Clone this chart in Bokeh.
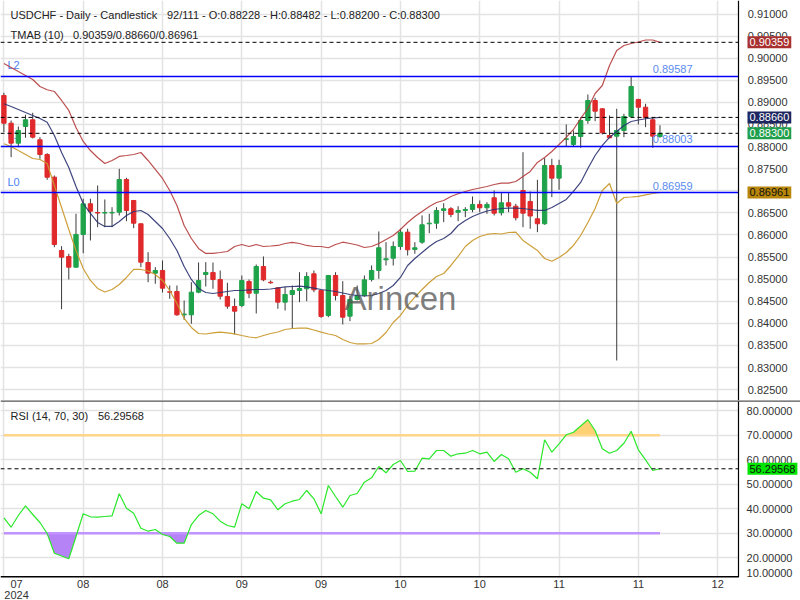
import numpy as np
from bokeh.plotting import figure
from bokeh.layouts import column
from bokeh.models import (Range1d, FixedTicker, PrintfTickFormatter, Span, Label, Grid)
from bokeh.embed import file_html
from bokeh.resources import INLINE

FONT = "Liberation Sans"

# ---------------- data ----------------
opens = [0.89156, 0.88529, 0.88077, 0.88455, 0.88606, 0.88154, 0.87821, 0.87307, 0.85649, 0.85513,
         0.85271, 0.86011, 0.86705, 0.86508, 0.86495, 0.86498, 0.86515, 0.87255, 0.86780, 0.86253,
         0.85377, 0.85135, 0.85196, 0.84715, 0.84721, 0.84193, 0.84193, 0.84705, 0.85106, 0.85151,
         0.84992, 0.84608, 0.84381, 0.84404, 0.84947, 0.84682, 0.85286, 0.84930, 0.84804, 0.84479,
         0.84653, 0.84743, 0.84782, 0.85121, 0.84743, 0.84178, 0.85083, 0.84630, 0.84162, 0.84540,
         0.84630, 0.84992, 0.85196, 0.85438, 0.85474, 0.85739, 0.86063, 0.85672, 0.85836, 0.86253,
         0.86266, 0.86554, 0.86592, 0.86515, 0.86554, 0.86576, 0.86690, 0.86615, 0.86841, 0.86502,
         0.86728, 0.86651, 0.87006, 0.86757, 0.86366, 0.86253, 0.87572, 0.87285, 0.88160, 0.88047,
         0.88228, 0.88590, 0.89043, 0.88855, 0.88251, 0.88235, 0.88364, 0.88681, 0.89066, 0.88891,
         0.88606, 0.88228]
highs = [0.89217, 0.88590, 0.88455, 0.88719, 0.88765, 0.88213, 0.87850, 0.87346, 0.85746, 0.85574,
         0.86479, 0.86819, 0.86819, 0.87119, 0.86803, 0.86628, 0.87497, 0.87294, 0.86790, 0.86260,
         0.85610, 0.85271, 0.85422, 0.84856, 0.84856, 0.84517, 0.84931, 0.85377, 0.85384, 0.85377,
         0.85196, 0.84918, 0.84562, 0.85083, 0.84992, 0.85332, 0.85513, 0.84970, 0.84818, 0.84818,
         0.84856, 0.85157, 0.85157, 0.85196, 0.84759, 0.85083, 0.85157, 0.84954, 0.84630, 0.84856,
         0.85083, 0.85309, 0.86079, 0.85836, 0.85852, 0.86140, 0.86140, 0.85836, 0.86441, 0.86479,
         0.86628, 0.86719, 0.86628, 0.86651, 0.86628, 0.86871, 0.86780, 0.86742, 0.87006, 0.86968,
         0.86968, 0.86705, 0.87873, 0.86984, 0.87248, 0.87737, 0.87724, 0.87701, 0.88500, 0.88364,
         0.88665, 0.89179, 0.89104, 0.88870, 0.88704, 0.88855, 0.88742, 0.89586, 0.89081, 0.88968,
         0.88665, 0.88482]
lows = [0.88326, 0.87760, 0.87986, 0.88199, 0.88183, 0.87724, 0.87248, 0.85723, 0.84320, 0.84992,
        0.85257, 0.85587, 0.85875, 0.86176, 0.86176, 0.86176, 0.86441, 0.86312, 0.86153, 0.85271,
        0.84931, 0.84895, 0.84698, 0.84555, 0.84171, 0.84080, 0.83990, 0.84682, 0.84834, 0.84782,
        0.84540, 0.84329, 0.83748, 0.84365, 0.84569, 0.84223, 0.84954, 0.84895, 0.84329, 0.84291,
        0.83877, 0.84479, 0.84501, 0.84705, 0.84125, 0.84140, 0.84517, 0.83974, 0.84049, 0.84517,
        0.84600, 0.84947, 0.85008, 0.85309, 0.85309, 0.85664, 0.85535, 0.85574, 0.85800, 0.86040,
        0.86140, 0.86289, 0.86402, 0.86312, 0.86402, 0.86515, 0.86515, 0.86479, 0.86441, 0.86441,
        0.86515, 0.86328, 0.86176, 0.86140, 0.86063, 0.86230, 0.86855, 0.87022, 0.88002, 0.88002,
        0.87973, 0.88516, 0.88575, 0.88274, 0.88190, 0.83159, 0.88213, 0.88665, 0.88500, 0.88439,
        0.87973, 0.88200]
closes = [0.88529, 0.88077, 0.88364, 0.88606, 0.88213, 0.87821, 0.87307, 0.85784, 0.85497, 0.85271,
          0.86011, 0.86705, 0.86538, 0.86495, 0.86508, 0.86510, 0.87255, 0.86554, 0.86266, 0.85384,
          0.85135, 0.85196, 0.84795, 0.84705, 0.84193, 0.84210, 0.84705, 0.84970, 0.85151, 0.84992,
          0.84614, 0.84388, 0.84275, 0.84970, 0.84682, 0.85286, 0.84985, 0.84918, 0.84479, 0.84653,
          0.84743, 0.84789, 0.85060, 0.84759, 0.84155, 0.85083, 0.84630, 0.84139, 0.84540, 0.84630,
          0.84985, 0.85196, 0.85710, 0.85461, 0.85739, 0.86063, 0.85664, 0.85710, 0.86230, 0.86266,
          0.86554, 0.86592, 0.86463, 0.86554, 0.86576, 0.86690, 0.86615, 0.86690, 0.86493, 0.86728,
          0.86651, 0.86389, 0.86493, 0.86429, 0.86253, 0.87572, 0.87285, 0.87572, 0.88176, 0.88228,
          0.88590, 0.89043, 0.88801, 0.88312, 0.88199, 0.88364, 0.88681, 0.89360, 0.88891, 0.88652,
          0.88235, 0.88300]

tma_upper = [0.89880, 0.89790, 0.89699, 0.89609, 0.89518, 0.89360, 0.89285, 0.89247, 0.89043, 0.88817,
             0.88432, 0.88115, 0.87911, 0.87753, 0.87617, 0.87685, 0.87776, 0.87798, 0.87821, 0.87866,
             0.87685, 0.87482, 0.87278, 0.87006, 0.86667, 0.86214, 0.85920, 0.85694, 0.85581, 0.85581,
             0.85603, 0.85626, 0.85739, 0.85784, 0.85739, 0.85784, 0.85739, 0.85750, 0.85762, 0.85807,
             0.85830, 0.85807, 0.85762, 0.85739, 0.85739, 0.85710, 0.85784, 0.85836, 0.85807, 0.85773,
             0.85716, 0.85739, 0.85807, 0.85897, 0.85988, 0.86124, 0.86282, 0.86418, 0.86531, 0.86644,
             0.86735, 0.86780, 0.86871, 0.86932, 0.86984, 0.87029, 0.87063, 0.87097, 0.87142, 0.87172,
             0.87172, 0.87210, 0.87323, 0.87436, 0.87640, 0.87753, 0.87889, 0.88047, 0.88206, 0.88387,
             0.88636, 0.88862, 0.89201, 0.89382, 0.89835, 0.90175, 0.90288, 0.90333, 0.90367, 0.90412,
             0.90412, 0.90359]
tma_mid = [0.88968, 0.88907, 0.88839, 0.88771, 0.88704, 0.88636, 0.88552, 0.88251, 0.87866, 0.87527,
           0.87097, 0.86712, 0.86486, 0.86282, 0.86192, 0.86192, 0.86305, 0.86441, 0.86531, 0.86554,
           0.86463, 0.86305, 0.86146, 0.85920, 0.85649, 0.85286, 0.84992, 0.84789, 0.84698, 0.84675,
           0.84698, 0.84721, 0.84743, 0.84743, 0.84755, 0.84766, 0.84766, 0.84777, 0.84800, 0.84823,
           0.84834, 0.84841, 0.84823, 0.84795, 0.84766, 0.84743, 0.84721, 0.84687, 0.84653, 0.84630,
           0.84619, 0.84630, 0.84675, 0.84743, 0.84856, 0.85038, 0.85309, 0.85467, 0.85603, 0.85739,
           0.85852, 0.85920, 0.86033, 0.86214, 0.86327, 0.86418, 0.86486, 0.86542, 0.86576, 0.86599,
           0.86606, 0.86606, 0.86599, 0.86576, 0.86554, 0.86554, 0.86622, 0.86712, 0.86803, 0.86984,
           0.87187, 0.87504, 0.87798, 0.88025, 0.88206, 0.88341, 0.88477, 0.88568, 0.88602, 0.88629,
           0.88647, 0.88660]
tma_lower = [0.88063, 0.88002, 0.87911, 0.87821, 0.87730, 0.87708, 0.87617, 0.87119, 0.86622, 0.86124,
             0.85649, 0.85241, 0.84970, 0.84789, 0.84709, 0.84766, 0.84879, 0.85038, 0.85219, 0.85219,
             0.85185, 0.85105, 0.84970, 0.84743, 0.84449, 0.84110, 0.83906, 0.83770, 0.83759, 0.83782,
             0.83800, 0.83782, 0.83763, 0.83725, 0.83691, 0.83673, 0.83725, 0.83770, 0.83804, 0.83861,
             0.83883, 0.83890, 0.83890, 0.83849, 0.83800, 0.83759, 0.83725, 0.83634, 0.83567, 0.83533,
             0.83533, 0.83544, 0.83634, 0.83793, 0.84019, 0.84178, 0.84404, 0.84592, 0.84766, 0.84924,
             0.85060, 0.85128, 0.85309, 0.85513, 0.85739, 0.85875, 0.85965, 0.86011, 0.86033, 0.86022,
             0.86056, 0.86063, 0.85875, 0.85762, 0.85649, 0.85467, 0.85406, 0.85490, 0.85603, 0.85762,
             0.85988, 0.86282, 0.86599, 0.87006, 0.87165, 0.86712, 0.86848, 0.86859, 0.86871, 0.86905,
             0.86938, 0.86961]

rsi = [36.29, 32.45, 37.22, 41.18, 37.63, 34.37, 29.88, 21.84, 20.69, 19.55,
       28.65, 37.92, 36.69, 36.53, 36.82, 37.10, 46.08, 40.20, 38.16, 32.04,
       30.82, 31.51, 29.47, 28.65, 25.92, 25.92, 33.55, 37.22, 39.27, 37.92,
       34.90, 33.14, 32.45, 42.00, 39.96, 47.02, 44.29, 43.63, 39.55, 42.00,
       43.06, 43.76, 47.43, 44.04, 37.92, 49.47, 44.98, 40.61, 45.39, 46.20,
       50.82, 52.61, 57.22, 54.65, 58.04, 59.67, 55.18, 55.31, 60.61, 60.37,
       63.76, 63.76, 61.43, 62.41, 62.65, 63.76, 62.41, 63.06, 59.27, 62.12,
       60.37, 54.90, 56.29, 54.90, 52.20, 68.12, 63.06, 66.49, 70.16, 71.22,
       73.76, 76.29, 71.92, 64.45, 62.65, 63.76, 66.73, 71.63, 64.04, 59.96,
       55.59, 56.29568]

level_lines = [0.89587, 0.88003, 0.86959]
level_names = ["L2", "L1", "L0"]
last_close = 0.88300
tmab_last = [0.90359, 0.88660, 0.86961]
rsi_over, rsi_under = 70, 30

price_ticks = [0.825, 0.830, 0.835, 0.840, 0.845, 0.850, 0.855, 0.860, 0.865, 0.870,
               0.875, 0.880, 0.885, 0.890, 0.895, 0.900, 0.905, 0.910]
rsi_ticks = [20, 30, 40, 50, 60, 70, 80]
rsi_bottom_tick = 13.96
x_grid_ticks = [0, 11, 22, 33, 44, 55, 66, 77, 88, 99]
x_label_ticks = [1.75, 11, 22, 33, 44, 55, 66, 77, 88, 99]
x_labels = ["07\n2024", "08", "08", "09", "09", "10", "10", "11", "11", "12"]

header = "USDCHF - Daily - Candlestick"
header2 = "92/111 - O:0.88228 - H:0.88482 - L:0.88200 - C:0.88300"
tmab_title = "TMAB (10)"
rsi_title = "RSI (14, 70, 30)"

# ---------------- figures ----------------
n = len(opens)
idx = np.arange(n)
o = np.array(opens); c = np.array(closes)
up = c >= o
GREEN, RED = "#1ea34a", "#e0292b"
body_col = np.where(up, GREEN, RED)

X_LEFT, X_AXIS, X_RIGHT = -0.4716, 101.89, 110.49   # frame spans the price-axis strip too
xr = Range1d(X_LEFT, X_RIGHT)
P_LO, P_HI = 0.822537, 0.913055
R_LO, R_HI = 11.92, 84.16
TXT = "#333333"
gcol = "#e3e3e3"


def base_fig(h, yr, xloc):
    p = figure(frame_width=800, frame_height=h, x_range=xr, y_range=yr,
               x_axis_location=xloc, y_axis_location="left", toolbar_location=None,
               output_backend="svg", min_border=0)
    p.background_fill_color = "white"
    p.border_fill_color = "white"
    p.outline_line_color = None
    p.grid.visible = False
    p.min_border_left = 0
    p.min_border_right = 0
    p.min_border_top = 0
    p.min_border_bottom = 0
    return p


def style_yaxis(ax, ticks, standoff):
    ax.ticker = FixedTicker(ticks=ticks, minor_ticks=[])
    ax.formatter = PrintfTickFormatter(format="%.5f")
    ax.fixed_location = X_AXIS
    ax.axis_line_color = "black"
    ax.axis_line_width = 1.2
    ax.major_tick_out = 0
    ax.major_tick_in = 0
    ax.minor_tick_line_color = None
    ax.major_label_standoff = standoff
    ax.major_label_text_align = "right"
    ax.major_label_text_font = FONT
    ax.major_label_text_font_size = "11px"
    ax.major_label_text_color = TXT


def hline(p, y, **kw):
    p.segment(x0=X_LEFT, y0=y, x1=X_AXIS, y1=y, **kw)


# ---------------- price panel ----------------
p1 = base_fig(400, Range1d(P_LO, P_HI), None)
p1.add_layout(Grid(dimension=0, ticker=FixedTicker(ticks=x_grid_ticks), grid_line_color=gcol, grid_line_width=1.5))
p1.add_layout(Grid(dimension=1, ticker=FixedTicker(ticks=price_ticks), grid_line_color=gcol, grid_line_width=1.5))
style_yaxis(p1.yaxis[0], price_ticks, -49)

for lv, nm in zip(level_lines, level_names):
    p1.add_layout(Label(x=7, y=lv, x_units="screen", text=nm, text_font=FONT, text_font_size="11px",
                        text_color="#4d7ff5", text_baseline="middle", y_offset=11, level="underlay"))

p1.segment(idx, highs, idx, lows, line_color="#3a3a3a", line_width=1)
p1.vbar(x=idx, width=0.6, top=np.maximum(o, c), bottom=np.minimum(o, c),
        fill_color=body_col, line_color=body_col, line_width=1)

p1.line(idx, tma_upper, line_color="#b43c3c", line_width=1.2, line_alpha=0.9)
p1.line(idx, tma_mid, line_color="#2a3270", line_width=1.2, line_alpha=0.9)
p1.line(idx, tma_lower, line_color="#c99a2e", line_width=1.2, line_alpha=0.95)

for lv in level_lines:
    hline(p1, lv, line_color="#0000ff", line_width=1.5)
    p1.add_layout(Label(x=idx[-1] - 1, y=lv, text=f"{lv:.5f}", text_font=FONT, text_font_size="11px",
                        text_color="#5b8cf0", text_baseline="middle", y_offset=7))
for lv in [tmab_last[0], tmab_last[1], last_close]:
    hline(p1, lv, line_color="black", line_width=1, line_dash="4 3")

# white strip behind the price labels
p1.quad(left=X_AXIS, right=X_RIGHT, bottom=P_LO, top=P_HI, fill_color="white", line_color=None)

p1.add_layout(Label(x=400, y=102, x_units="screen", y_units="screen", text="Arincen", text_font=FONT,
                    text_font_size="33px", text_color="#555555", text_alpha=0.75,
                    text_align="center", text_baseline="middle"))

p1.add_layout(Label(x=10, y=386, x_units="screen", y_units="screen", text=header, text_font=FONT,
                    text_font_size="11px", text_color="#222222", text_baseline="middle"))
p1.add_layout(Label(x=166.5, y=386, x_units="screen", y_units="screen", text=header2, text_font=FONT,
                    text_font_size="11px", text_color="#222222", text_baseline="middle"))
p1.add_layout(Label(x=10, y=366, x_units="screen", y_units="screen", text=tmab_title, text_font=FONT,
                    text_font_size="11px", text_color="#222222", text_baseline="middle"))
p1.add_layout(Label(x=72.5, y=366, x_units="screen", y_units="screen",
                    text="/".join(f"{v:.5f}" for v in tmab_last), text_font=FONT,
                    text_font_size="11px", text_color="#222222", text_baseline="middle"))

badges = [(tmab_last[0], "#a8302f", "white"), (tmab_last[1], "#1d2660", "white"),
          (last_close, "#1f9e4c", "white"), (tmab_last[2], "#b8860b", "#111111")]
for val, bg, fg in badges:
    p1.add_layout(Label(x=747, y=val, x_units="screen", text=f"{val:.5f}", text_font=FONT,
                        text_font_size="11px", text_color=fg, background_fill_color=bg,
                        text_baseline="middle", padding=2))

# ---------------- RSI panel ----------------
p2 = base_fig(177, Range1d(R_LO, R_HI), "below")
p2.add_layout(Grid(dimension=0, ticker=FixedTicker(ticks=x_grid_ticks), grid_line_color=gcol, grid_line_width=1.5))
p2.add_layout(Grid(dimension=1, ticker=FixedTicker(ticks=rsi_ticks), grid_line_color=gcol, grid_line_width=1.5))
style_yaxis(p2.yaxis[0], [rsi_bottom_tick] + rsi_ticks, -54)
p2.yaxis[0].major_label_overrides = {rsi_bottom_tick: "10.00000"}

axx = p2.xaxis[0]
axx.ticker = FixedTicker(ticks=x_label_ticks, minor_ticks=[])
axx.major_label_overrides = {t: lab for t, lab in zip(x_label_ticks, x_labels)}
axx.axis_line_color = None
axx.major_tick_out = 0
axx.major_tick_in = 0
axx.major_label_standoff = 0
axx.major_label_text_font = FONT
axx.major_label_text_font_size = "11px"
axx.major_label_text_color = TXT
axx.major_label_text_line_height = 0.95


def fill_region(xs, ys, level, above):
    px, py = [], []
    for k in range(len(xs)):
        if k > 0:
            y0, y1 = ys[k - 1], ys[k]
            if (y0 - level) * (y1 - level) < 0:
                t = (level - y0) / (y1 - y0)
                px.append(xs[k - 1] + t * (xs[k] - xs[k - 1]))
                py.append(level)
        px.append(xs[k]); py.append(ys[k])
    px = np.array(px, dtype=float); py = np.array(py, dtype=float)
    y2 = np.maximum(py, level) if above else np.minimum(py, level)
    return px, y2


fx, fy = fill_region(idx, rsi, rsi_over, True)
p2.varea(x=fx, y1=rsi_over, y2=fy, fill_color="#ffcf6e", fill_alpha=0.95)
fx, fy = fill_region(idx, rsi, rsi_under, False)
p2.varea(x=fx, y1=rsi_under, y2=fy, fill_color="#b27cf6", fill_alpha=0.95)

p2.line([idx[0], idx[-1]], [rsi_over, rsi_over], line_color="#ffd68a", line_width=2.5)
p2.line([idx[0], idx[-1]], [rsi_under, rsi_under], line_color="#c293ff", line_width=2.5)
p2.line(idx, rsi, line_color="#2be82b", line_width=1.2)
hline(p2, rsi[-1], line_color="black", line_width=1, line_dash="4 3")

p2.quad(left=X_AXIS, right=X_RIGHT, bottom=R_LO, top=R_HI, fill_color="white", line_color=None)
# panel separator (full width) and time-axis base line (up to the price axis)
p2.add_layout(Span(location=R_HI, dimension="width", line_color="#555555", line_width=2.4))
p2.segment(x0=X_LEFT, y0=R_LO, x1=X_AXIS, y1=R_LO, line_color="black", line_width=3)

p2.add_layout(Label(x=10, y=162, x_units="screen", y_units="screen", text=rsi_title, text_font=FONT,
                    text_font_size="11px", text_color="#222222", text_baseline="middle"))
p2.add_layout(Label(x=97.5, y=162, x_units="screen", y_units="screen", text=f"{rsi[-1]:.5f}", text_font=FONT,
                    text_font_size="11px", text_color="#222222", text_baseline="middle"))
p2.add_layout(Label(x=747, y=rsi[-1], x_units="screen", text=f"{rsi[-1]:.5f}", text_font=FONT,
                    text_font_size="11px", text_color="#111111", background_fill_color="#00e600",
                    text_baseline="middle", padding=2))

layout = column(p1, p2, spacing=0)
open("out.html", "w").write(file_html(layout, INLINE))
